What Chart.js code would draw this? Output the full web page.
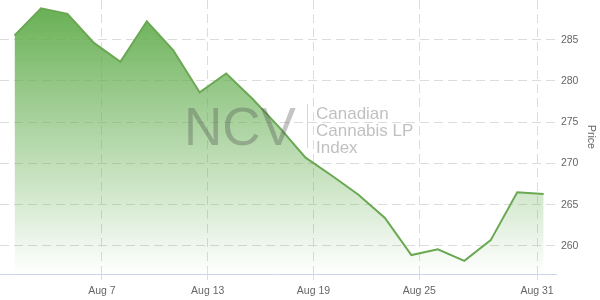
<!DOCTYPE html>
<html>
<head>
<meta charset="utf-8">
<script src="https://cdn.jsdelivr.net/npm/chart.js@4/dist/chart.umd.min.js"></script>
<style>
    html, body { margin: 0; padding: 0; background: #fff; }
    #wrap { width: 600px; height: 300px; }
</style>
</head>
<body>
<div id="wrap"><canvas id="myChart"></canvas></div>
<script>
'use strict';

// trading day index -> price
var priceValues = [
    285.5, 288.8, 288.1, 284.6, 282.3, 287.2, 283.7, 278.6, 280.9, 277.8,
    274.4, 270.7, 268.5, 266.2, 263.4, 258.9, 259.6, 258.2, 260.7, 266.5, 266.3
];

// where the date labels sit along the day index axis
var xTickPositions = [3.3, 7.3, 11.3, 15.3, 19.75];
var xTickLabels = ['Aug 7', 'Aug 13', 'Aug 19', 'Aug 25', 'Aug 31'];

var yTickValues = [260, 265, 270, 275, 280, 285];

var labelFont = { family: 'Liberation Sans, Arial, sans-serif', size: 10.5 };

// bottom axis line, only as wide as the x scale itself
let axisLine = {
    id: 'axisLine',
    beforeDatasetsDraw(chart) {
        let ctx = chart.ctx;
        let xScale = chart.scales.x;
        let yScale = chart.scales.y;
        let x1 = xScale.getPixelForValue(xScale.min);
        let x2 = xScale.getPixelForValue(xScale.max);
        let y = Math.round(yScale.getPixelForValue(yScale.min)) + 0.5;
        ctx.save();
        ctx.strokeStyle = '#ccd6eb';
        ctx.lineWidth = 1;
        ctx.beginPath();
        ctx.moveTo(x1, y);
        ctx.lineTo(x2, y);
        ctx.stroke();
        ctx.restore();
    }
};

let watermark = {
    id: 'watermark',
    afterDatasetsDraw(chart) {
        let ctx = chart.ctx;
        ctx.save();
        ctx.fillStyle = 'rgba(70, 70, 70, 0.32)';
        ctx.font = '53px Liberation Sans, Arial, sans-serif';
        ctx.textBaseline = 'alphabetic';
        ctx.fillText('NCV', 184, 145);

        ctx.strokeStyle = 'rgba(120, 120, 120, 0.3)';
        ctx.lineWidth = 1;
        ctx.beginPath();
        ctx.moveTo(307.5, 104);
        ctx.lineTo(307.5, 148);
        ctx.stroke();

        ctx.fillStyle = 'rgba(150, 150, 150, 0.6)';
        ctx.font = '17px Liberation Sans, Arial, sans-serif';
        ctx.fillText('Canadian', 316, 119);
        ctx.fillText('Cannabis LP', 316, 136);
        ctx.fillText('Index', 316, 153);
        ctx.restore();
    }
};

function fillGradient(context) {
    let chart = context.chart;
    let area = chart.chartArea;
    if (!area) {
        return 'rgba(104, 176, 86, 0.6)';
    }
    let g = chart.ctx.createLinearGradient(0, area.top, 0, area.bottom);
    g.addColorStop(0, 'rgba(100, 174, 80, 1)');
    g.addColorStop(1, 'rgba(100, 174, 80, 0)');
    return g;
}

let chartInstance = new Chart(document.getElementById('myChart'), {
    type: 'line',
    data: {
        datasets: [
            {
                label: 'Price',
                data: priceValues.map((v, i) => ({ x: i, y: v })),
                borderColor: '#6aa853',
                borderWidth: 2,
                backgroundColor: fillGradient,
                fill: 'start',
                pointRadius: 0,
                tension: 0
            }
        ]
    },
    options: {
        responsive: true,
        maintainAspectRatio: false,
        animation: false,
        layout: { padding: { top: 0, right: 0, bottom: 2.4, left: 0 } },
        plugins: {
            legend: { display: false },
            tooltip: { enabled: false }
        },
        scales: {
            x: {
                type: 'linear',
                min: -0.55,
                max: 20.5,
                afterBuildTicks: axis => {
                    axis.ticks = xTickPositions.map(v => ({ value: v }));
                },
                afterFit: axis => {
                    axis.paddingLeft = 0;
                    axis.paddingRight = 0;
                    axis.height = 23.6;
                },
                ticks: {
                    autoSkip: false,
                    maxRotation: 0,
                    padding: 5,
                    color: '#666',
                    font: labelFont,
                    callback: (value, index) => xTickLabels[index]
                },
                grid: {
                    color: '#dcdcdc',
                    tickLength: 6,
                    tickColor: '#dcdcdc'
                },
                border: {
                    display: false,
                    dash: [9, 5]
                }
            },
            y: {
                position: 'right',
                min: 256.6,
                max: 289.8,
                afterBuildTicks: axis => {
                    axis.ticks = yTickValues.map(v => ({ value: v }));
                },
                afterFit: axis => {
                    axis.paddingTop = 0;
                    axis.paddingBottom = 0;
                },
                ticks: {
                    padding: 4,
                    color: '#666',
                    font: labelFont
                },
                grid: {
                    color: '#dcdcdc',
                    drawTicks: false
                },
                border: {
                    display: false,
                    dash: [9, 5]
                },
                title: {
                    display: true,
                    text: 'Price',
                    color: '#666',
                    font: labelFont,
                    padding: { top: 3, bottom: 2 }
                }
            }
        }
    },
    plugins: [axisLine, watermark]
});
</script>
</body>
</html>
